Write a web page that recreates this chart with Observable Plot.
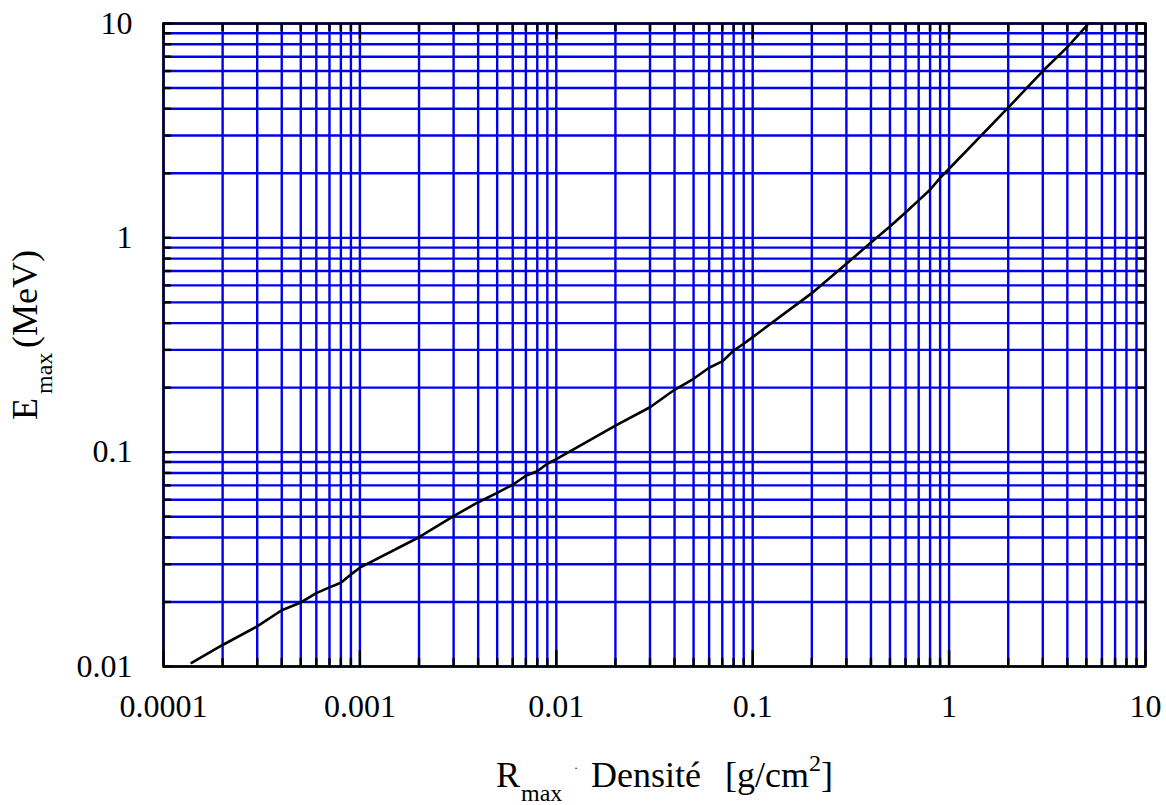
<!DOCTYPE html>
<html>
<head>
<meta charset="utf-8">
<script src="https://cdn.jsdelivr.net/npm/d3@7"></script>
<script src="https://cdn.jsdelivr.net/npm/@observablehq/plot@0.6"></script>
<style>
  html, body { margin: 0; padding: 0; background: white; }
  svg { display: block; }
</style>
</head>
<body>
<div id="chart"></div>
<script>
// Curve: range (g/cm^2) vs maximum energy (MeV)
const rangeX = [1.39e-4, 2e-4, 3e-4, 4e-4, 5e-4, 6e-4, 7e-4, 8e-4, 9e-4, 1e-3,
  2e-3, 3e-3, 4e-3, 5e-3, 6e-3, 7e-3, 8e-3, 9e-3, 0.01,
  0.02, 0.03, 0.04, 0.05, 0.06, 0.07, 0.08, 0.09, 0.1,
  0.2, 0.3, 0.4, 0.5, 0.6, 0.7, 0.8, 0.9, 1,
  2, 3, 4, 5.13];
const energyY = [0.0104, 0.0126, 0.0154, 0.0183, 0.0199, 0.022, 0.0234, 0.0246, 0.0269, 0.0289,
  0.0401, 0.0503, 0.0584, 0.0646, 0.0705, 0.0776, 0.0815, 0.0883, 0.0927,
  0.133, 0.162, 0.1955, 0.22, 0.2477, 0.265, 0.298, 0.3206, 0.344,
  0.552, 0.757, 0.95, 1.13, 1.314, 1.495, 1.676, 1.905, 2.10,
  4.05, 6.0, 7.76, 10];

// Tick values and labels
const xDecades = [1e-4, 1e-3, 1e-2, 1e-1, 1, 10];
const xTickLabels = ["0.0001", "0.001", "0.01", "0.1", "1", "10"];
const yDecades = [0.01, 0.1, 1, 10];
const yTickLabels = ["0.01", "0.1", "1", "10"];
const minorMultipliers = [2, 3, 4, 5, 6, 7, 8, 9];

const xMinor = xDecades.slice(0, -1).flatMap(d => minorMultipliers.map(m => +(d * m).toPrecision(6)));
const yMinor = yDecades.slice(0, -1).flatMap(d => minorMultipliers.map(m => +(d * m).toPrecision(6)));
const xGrid = xDecades.concat(xMinor);
const yGrid = yDecades.concat(yMinor);
const curve = rangeX.map((x, i) => ({x, y: energyY[i]}));

const W = 1166, H = 805;
const mL = 163, mR = 21, mT = 23, mB = 139;
const plotW = W - mL - mR, plotH = H - mT - mB;
const BLUE = "#0000f0";
const FONT = "'Liberation Serif', 'Times New Roman', Times, serif";

const svg = Plot.plot({
  width: W, height: H,
  marginLeft: mL, marginRight: mR, marginTop: mT, marginBottom: mB,
  style: {fontFamily: FONT, fontSize: "32px", background: "white", color: "black"},
  x: {type: "log", domain: [1e-4, 10]},
  y: {type: "log", domain: [0.01, 10]},
  marks: [
    Plot.ruleX(xGrid, {stroke: BLUE, strokeWidth: 2.4}),
    Plot.ruleY(yGrid, {stroke: BLUE, strokeWidth: 2.4}),
    // inner ticks, bottom & top
    Plot.tickX(xMinor, {stroke: "black", strokeWidth: 2.4, insetTop: plotH - 8}),
    Plot.tickX(xMinor, {stroke: "black", strokeWidth: 2.4, insetBottom: plotH - 8}),
    Plot.tickX(xDecades, {stroke: "black", strokeWidth: 2.4, insetTop: plotH - 16}),
    Plot.tickX(xDecades, {stroke: "black", strokeWidth: 2.4, insetBottom: plotH - 16}),
    // inner ticks, left & right
    Plot.tickY(yGrid, {stroke: "black", strokeWidth: 2.4, insetRight: plotW - 8}),
    Plot.tickY(yGrid, {stroke: "black", strokeWidth: 2.4, insetLeft: plotW - 8}),
    Plot.axisX(xDecades, {tickSize: 0, tickPadding: 28, label: null,
      tickFormat: d => xTickLabels[xDecades.indexOf(d)]}),
    Plot.axisY(yDecades, {tickSize: 0, tickPadding: 31, label: null,
      tickFormat: d => yTickLabels[yDecades.indexOf(d)]}),
    Plot.line(curve, {x: "x", y: "y", stroke: "black", strokeWidth: 2.6, curve: "linear"}),
    Plot.frame({stroke: "black", strokeWidth: 2.4})
  ]
});

// Axis titles with sub/superscripts
const s = d3.select(svg);
const xl = s.append("text")
  .attr("text-anchor", "start")
  .attr("font-family", FONT).attr("font-size", 36).attr("fill", "black");
xl.append("tspan").attr("x", 496).attr("y", 787).text("R");
xl.append("tspan").attr("x", 521).attr("y", 801).attr("font-size", 24).text("max");
xl.append("tspan").attr("x", 574).attr("y", 772).attr("font-size", 12).text("·");
xl.append("tspan").attr("x", 591).attr("y", 787).text("Densité");
xl.append("tspan").attr("x", 725).attr("y", 787).text("[g/cm");
xl.append("tspan").attr("x", 809).attr("y", 771).attr("font-size", 24).text("2");
xl.append("tspan").attr("x", 821).attr("y", 787).text("]");

const yl = s.append("text")
  .attr("text-anchor", "start")
  .attr("font-family", FONT).attr("font-size", 36).attr("fill", "black")
  .attr("transform", "translate(37,420) rotate(-90)");
yl.append("tspan").attr("x", 0).attr("y", 0).text("E");
yl.append("tspan").attr("x", 26).attr("y", 15).attr("font-size", 24).text("max");
yl.append("tspan").attr("x", 72).attr("y", 0).text("(MeV)");

document.getElementById("chart").appendChild(svg);
</script>
</body>
</html>
